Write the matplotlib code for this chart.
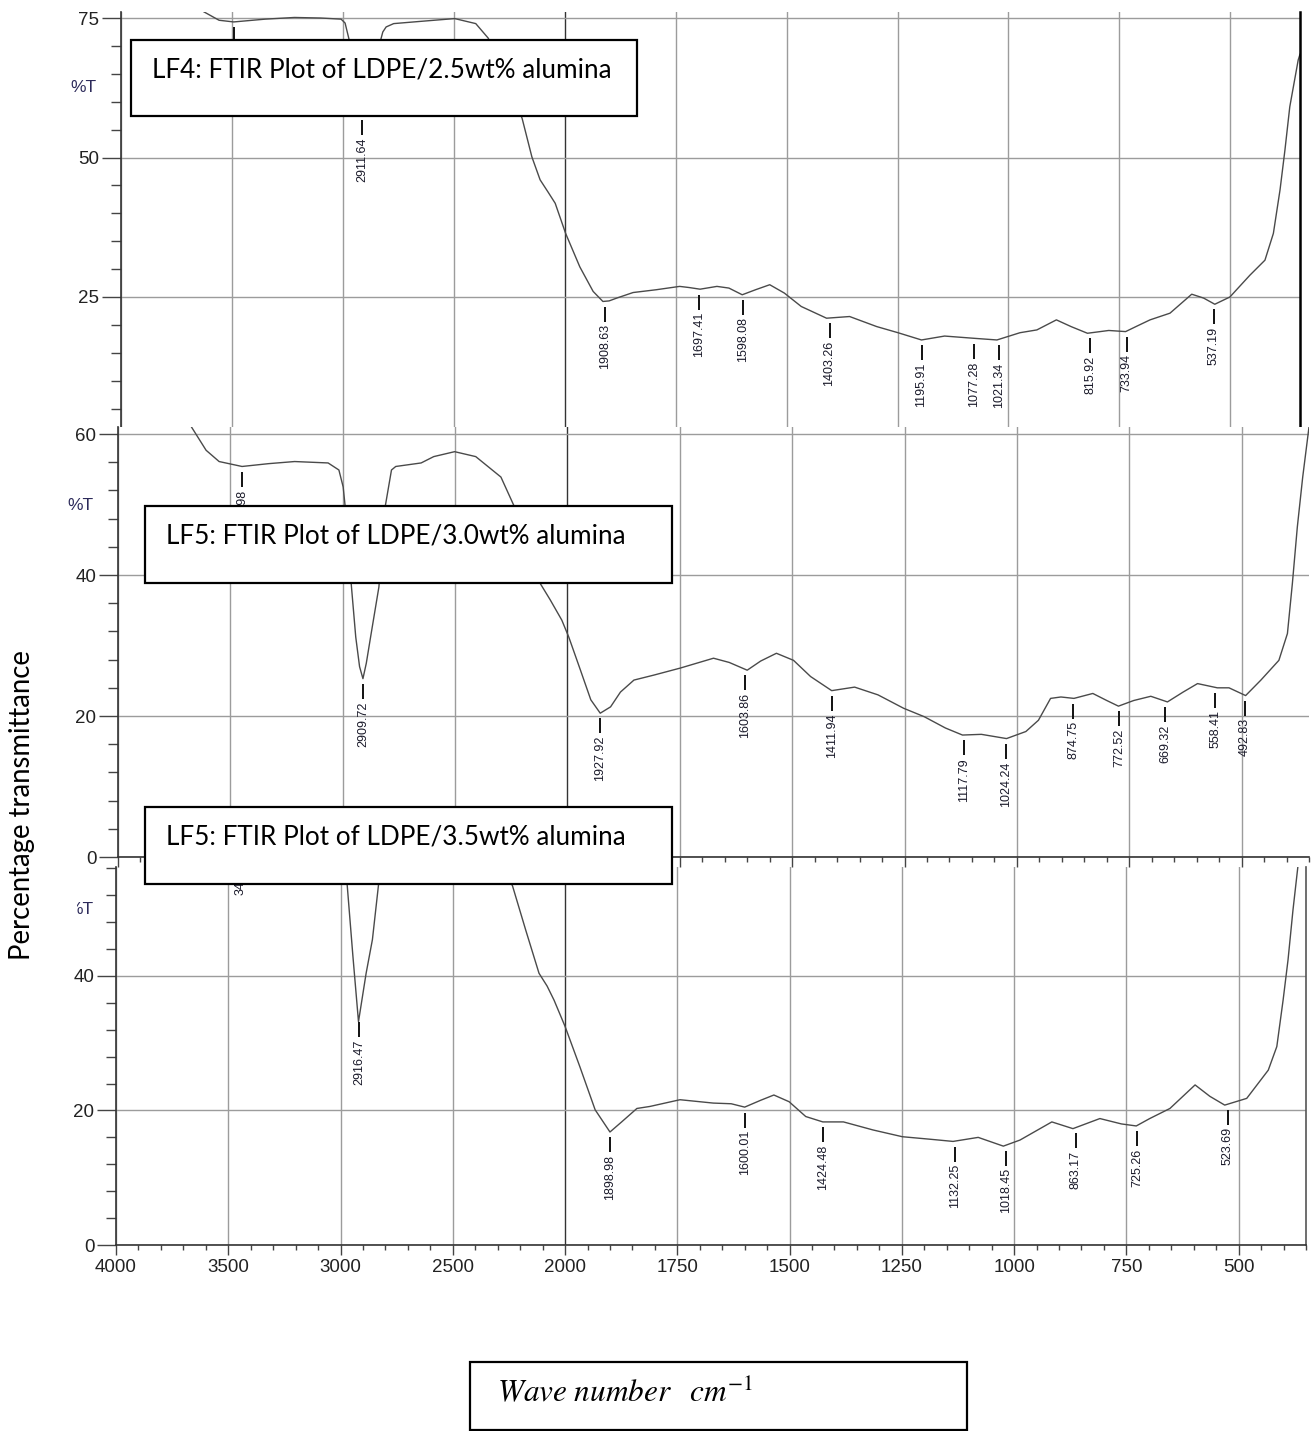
import numpy as np
import matplotlib
matplotlib.use("Agg")
import matplotlib.pyplot as plt
from matplotlib.patches import Rectangle
from matplotlib.transforms import offset_copy, Bbox, TransformedBbox, IdentityTransform

W, H = 1312, 1431

# ---- data (wavenumber cm-1, %T) ----
lf4_wn = [3626, 3558, 3492, 3350, 3218, 3100, 3008, 2990, 2965, 2940, 2911, 2880, 2850,
          2820, 2805, 2771, 2650, 2496, 2401, 2345, 2290, 2240, 2192, 2148, 2111, 2075,
          2043, 1998, 1966, 1936, 1914, 1900, 1883, 1846, 1794, 1741, 1720, 1695, 1657,
          1630, 1600, 1570, 1538, 1505, 1467, 1410, 1358, 1297, 1249, 1196, 1144, 1078,
          1026, 974, 936, 892, 859, 822, 774, 736, 710, 681, 636, 587, 560, 535, 501,
          456, 422, 403, 388, 377, 366, 347, 343]
lf4_t = [76.1, 74.6, 74.3, 74.8, 75.1, 75.0, 74.8, 74.1, 70.0, 62.0, 57.6, 62.0, 68.0,
         72.5, 73.4, 74.0, 74.4, 74.9, 74.0, 71.4, 67.0, 62.0, 57.0, 50.1, 46.0, 43.8,
         41.8, 36.4, 30.4, 26.0, 24.2, 24.3, 24.8, 25.8, 26.3, 26.9, 26.7, 26.4, 26.9,
         26.6, 25.4, 26.3, 27.2, 25.7, 23.3, 21.2, 21.5, 19.7, 18.6, 17.3, 18.0, 17.6,
         17.3, 18.6, 19.1, 20.9, 19.7, 18.5, 19.0, 18.8, 19.8, 20.9, 22.1, 25.5, 24.8,
         23.7, 25.0, 28.9, 31.6, 36.4, 44.2, 51.3, 59.1, 67.5, 68.5]
lf4_peaks = [3491.27, 2911.64, 1908.63, 1697.41, 1598.08, 1403.26, 1195.91, 1077.28,
             1021.34, 815.92, 733.94, 537.19]

lf5_wn = [3750, 3673, 3608, 3550, 3448, 3330, 3214, 3065, 3017, 2998, 2989, 2975, 2961,
          2942, 2925, 2910, 2895, 2876, 2839, 2825, 2811, 2783, 2764, 2651, 2595, 2502,
          2408, 2296, 2239, 2180, 2121, 2077, 2025, 1997, 1971, 1948, 1927, 1904, 1882,
          1852, 1808, 1749, 1675, 1640, 1600, 1570, 1535, 1497, 1459, 1412, 1361, 1309,
          1252, 1206, 1159, 1121, 1079, 1023, 980, 952, 925, 902, 873, 831, 800, 774,
          740, 702, 665, 630, 598, 554, 528, 491, 457, 417, 398, 387, 376, 364, 350, 345]
lf5_t = [66.0, 61.0, 57.7, 56.1, 55.4, 55.8, 56.1, 55.9, 54.9, 52.5, 49.7, 44.0, 38.3,
         31.2, 27.0, 25.3, 27.5, 31.2, 38.3, 44.0, 49.7, 54.9, 55.4, 55.9, 56.8, 57.5,
         56.8, 53.9, 49.9, 44.0, 38.8, 36.5, 33.6, 31.2, 26.5, 22.3, 20.4, 21.3, 23.4,
         25.1, 25.8, 26.8, 28.2, 27.6, 26.5, 27.8, 28.9, 27.9, 25.6, 23.6, 24.1, 23.0,
         21.1, 19.9, 18.3, 17.3, 17.4, 16.8, 17.8, 19.4, 22.5, 22.7, 22.5, 23.2, 22.2,
         21.4, 22.2, 22.8, 22.0, 23.4, 24.6, 24.0, 24.0, 22.9, 25.1, 27.9, 31.7, 38.8,
         46.8, 53.9, 61.0, 64.0]
lf5_peaks = [3446.98, 2909.72, 1927.92, 1603.86, 1411.94, 1117.79, 1024.24, 874.75,
             772.52, 669.32, 558.41, 492.83]

lf6_wn = [3800, 3700, 3448, 3200, 3020, 2985, 2971, 2945, 2920, 2886, 2858, 2830, 2810,
          2600, 2400, 2235, 2175, 2116, 2080, 2049, 2000, 1967, 1933, 1900, 1874, 1840,
          1811, 1744, 1670, 1630, 1600, 1565, 1535, 1501, 1464, 1426, 1380, 1314, 1249,
          1183, 1136, 1080, 1024, 987, 916, 869, 809, 761, 728, 698, 653, 597, 564, 531,
          482, 434, 415, 401, 390, 379, 368, 360]
lf6_t = [63.0, 62.5, 62.0, 60.5, 59.0, 57.0, 53.8, 43.0, 33.2, 40.4, 45.4, 53.8, 57.0,
         59.0, 58.0, 53.5, 46.8, 40.4, 38.5, 36.4, 32.5, 26.5, 20.1, 16.8, 18.3, 20.3,
         20.6, 21.6, 21.1, 21.0, 20.5, 21.5, 22.3, 21.3, 19.1, 18.3, 18.3, 17.1, 16.1,
         15.7, 15.4, 16.0, 14.7, 15.6, 18.3, 17.3, 18.8, 18.0, 17.7, 18.8, 20.3, 23.8,
         22.1, 20.8, 21.8, 26.0, 29.5, 36.4, 42.4, 49.8, 56.3, 60.0]
lf6_peaks = [3445.11, 2916.47, 1898.98, 1600.01, 1424.48, 1132.25, 1018.45, 863.17,
             725.26, 523.69]

titles = ["LF4: FTIR Plot of LDPE/2.5wt% alumina",
          "LF5: FTIR Plot of LDPE/3.0wt% alumina",
          "LF5: FTIR Plot of LDPE/3.5wt% alumina"]

x_major = [4000, 3500, 3000, 2500, 2000, 1750, 1500, 1250, 1000, 750, 500]
x_minor = [w for w in list(range(3900, 2000, -100)) + list(range(1950, 349, -50))
           if w not in x_major]

tick_font = ["Liberation Sans Narrow", "Liberation Sans", "DejaVu Sans"]
box_font = ["Lato", "DejaVu Sans"]
curve_col = "#4a4a4a"
grid_col = "#9c9c9c"


# the FTIR software compresses 4000-2000 to half the scale of 2000-400
def fwd(w):
    w = np.asarray(w, float)
    return np.where(w >= 2000, w / 500.0, w / 250.0 - 4.0)


def inv(u):
    u = np.asarray(u, float)
    return np.where(u >= 4, u * 500.0, (u + 4.0) * 250.0)


fig = plt.figure(figsize=(W / 100, H / 100), dpi=100)


def px_axes(l, t, r, b, z):
    ax = fig.add_axes([l / W, 1 - b / H, (r - l) / W, (b - t) / H])
    ax.set_zorder(z)
    return ax


def setup(ax, xlim, ylim, ymaj, ymin, show_xlabels):
    ax.set_xscale("function", functions=(fwd, inv))
    ax.set_xlim(*xlim)
    ax.set_ylim(*ylim)
    ax.set_xticks(x_major)
    ax.set_xticks(x_minor, minor=True)
    ax.set_yticks(ymaj)
    ax.set_yticks(ymin, minor=True)
    ax.set_axisbelow(True)
    ax.grid(True, which="major", color=grid_col, lw=1.0)
    for gl, w in zip(ax.get_xgridlines(), x_major):
        if w == 2000:
            gl.set_color("#333333")
    ax.spines["top"].set_visible(False)
    for s in ("left", "bottom", "right"):
        ax.spines[s].set_color("#333333")
        ax.spines[s].set_linewidth(1.2)
    ax.tick_params(axis="y", which="major", length=14, width=1.0, pad=1.5,
                   color="#444444", labelsize=13.5, labelcolor="#222222")
    ax.tick_params(axis="y", which="minor", length=7.5, width=1.0, color="#444444")
    ax.tick_params(axis="x", which="major", length=7, width=1.0, pad=3,
                   color="#444444", labelsize=13.5, labelcolor="#222222",
                   labelbottom=show_xlabels)
    ax.tick_params(axis="x", which="minor", length=3.5, width=1.0, color="#444444")
    for lab in ax.get_xticklabels() + ax.get_yticklabels():
        lab.set_family(tick_font)


def mark_peaks(ax, wn, t, peaks):
    wn_a = np.array(wn)[::-1]
    t_a = np.array(t)[::-1]
    line_tr = offset_copy(ax.transData, fig=fig, y=-12.5, units="dots")
    text_tr = offset_copy(ax.transData, fig=fig, y=-23, units="dots")
    for p in peaks:
        v = np.interp(p, wn_a, t_a)
        ax.plot([p], [v], marker="|", ms=10.8, mew=1.4, color="#111111",
                transform=line_tr, clip_on=False)
        ax.text(p, v, f"{p:.2f}", rotation=90, ha="center", va="top",
                fontsize=9, family=tick_font, color="#1a1a2a",
                transform=text_tr)


# top panel (LF4)
ax1 = px_axes(121, 12, 1300, 427, 1)
setup(ax1, (4000, 343), (1.70, 76.08), [25, 50, 75],
      [5, 10, 15, 20, 30, 35, 40, 45, 55, 60, 65, 70], False)
ax1.spines["bottom"].set_visible(False)
ax1.spines["right"].set_color("black")
ax1.spines["right"].set_linewidth(1.8)
ax1.tick_params(axis="x", which="both", length=0)
ax1.plot(lf4_wn, lf4_t, color=curve_col, lw=1.0)
mark_peaks(ax1, lf4_wn, lf4_t, lf4_peaks)

# middle panel (3.0 wt%)
ax2 = px_axes(118, 427, 1309, 857, 2)
setup(ax2, (4000, 350), (0, 61.0), [0, 20, 40, 60],
      [4, 8, 12, 16, 24, 28, 32, 36, 44, 48, 52, 56], False)
ax2.spines["right"].set_visible(False)
ax2.plot(lf5_wn, lf5_t, color=curve_col, lw=1.0)
mark_peaks(ax2, lf5_wn, lf5_t, lf5_peaks)

# bottom panel (3.5 wt%)
ax3 = px_axes(116, 867, 1306, 1245, 0)
setup(ax3, (4000, 350), (0, 56.2), [0, 20, 40],
      [4, 8, 12, 16, 24, 28, 32, 36, 44, 48, 52, 56], True)
ax3.spines["right"].set_color("#555555")
ax3.plot(lf6_wn, lf6_t, color=curve_col, lw=1.0)
mark_peaks(ax3, lf6_wn, lf6_t, lf6_peaks)

# %T captions of the instrument plots
pct_col = "#2c2a5a"
fig.text(83 / W, 1 - 88 / H, "%T", ha="center", va="center", fontsize=12.5,
         family=tick_font, color=pct_col)
fig.text(80 / W, 1 - 505 / H, "%T", ha="center", va="center", fontsize=12.5,
         family=tick_font, color=pct_col)
t3 = fig.text(80 / W, 1 - 910 / H, "%T", ha="center", va="center", fontsize=12.5,
              family=tick_font, color=pct_col)
t3.set_clip_box(TransformedBbox(Bbox.from_extents(77, 0, W, H), IdentityTransform()))
t3.set_clip_on(True)

# title boxes
boxes = [(131, 40, 637, 116), (145, 506, 672, 583), (145, 807, 672, 884)]
for (l, t, r, b), title in zip(boxes, titles):
    fig.add_artist(Rectangle((l / W, 1 - b / H), (r - l) / W, (b - t) / H,
                             transform=fig.transFigure, facecolor="white",
                             edgecolor="black", lw=1.6, zorder=10))
    fig.text((l + 21) / W, 1 - (t + 30) / H, title, ha="left", va="center",
             fontsize=18.8, family=box_font, color="black", zorder=11)

# axis captions
fig.text(22 / W, 1 - 805 / H, "Percentage transmittance", rotation=90,
         ha="center", va="center", fontsize=19.8, family=box_font, color="black")
fig.add_artist(Rectangle((470 / W, 1 - 1430 / H), (967 - 470) / W, (1430 - 1362) / H,
                         transform=fig.transFigure, facecolor="white",
                         edgecolor="black", lw=1.6, zorder=10))
plt.rcParams["mathtext.fontset"] = "stix"
fig.text(497 / W, 1 - 1393 / H, r"$Wave\ number\;\;\ cm^{-1}$", ha="left",
         va="center", fontsize=22.5, color="black", zorder=11)

fig.savefig("out.png", dpi=100)
